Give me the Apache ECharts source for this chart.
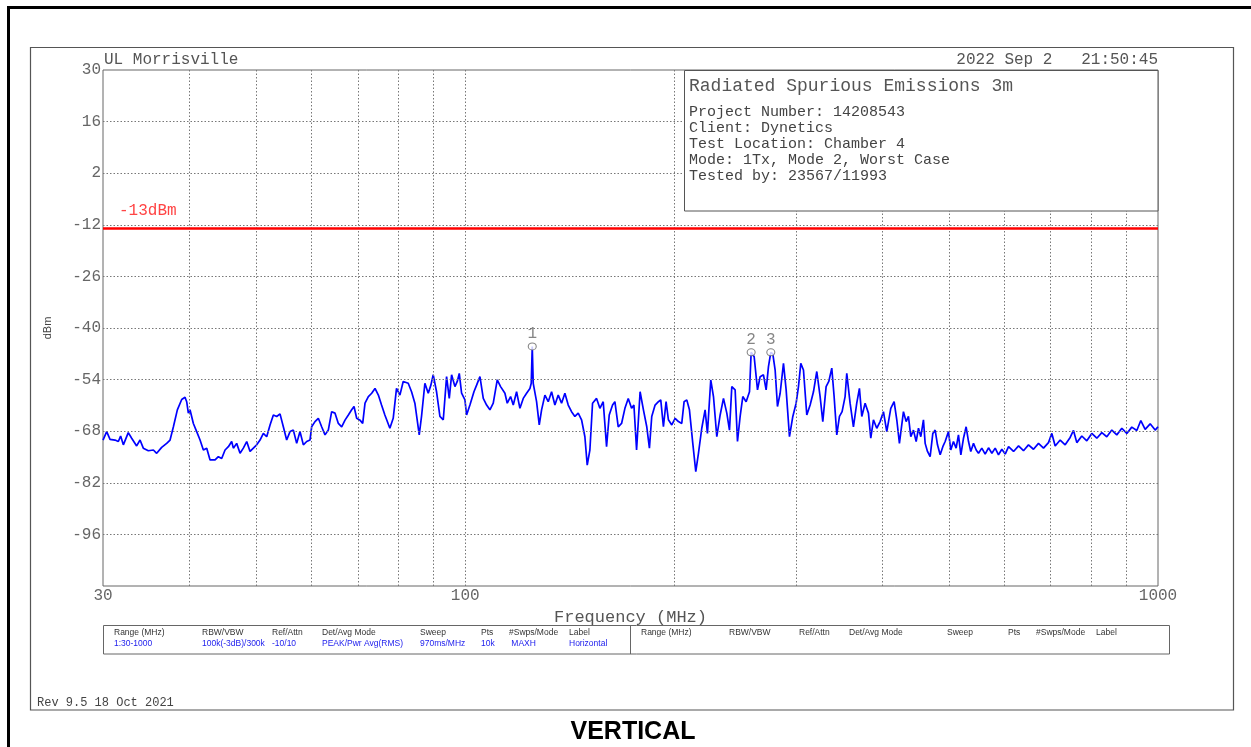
<!DOCTYPE html>
<html>
<head>
<meta charset="utf-8">
<script src="https://cdn.jsdelivr.net/npm/echarts@6/dist/echarts.min.js"></script>
<style>
html, body { margin: 0; padding: 0; background: #fff; }
#chart { width: 1251px; height: 747px; }
</style>
</head>
<body>
<div id="chart"></div>
<script>
// Max-hold spectrum trace, 30 MHz - 1 GHz (frequency in MHz, level in dBm)
const freqMHz = [
  30.0, 30.37, 30.71, 31.22, 31.57, 31.81, 32.10, 32.63, 33.00, 33.55,
  33.93, 34.30, 34.88, 35.47, 35.86, 36.46, 37.07, 37.49, 37.91, 38.41,
  38.97, 39.40, 39.62, 39.84, 40.06, 40.51, 40.96, 41.42, 41.88, 42.35,
  42.82, 43.54, 44.02, 44.51, 45.01, 45.51, 46.01, 46.27, 46.78, 47.31,
  47.83, 48.37, 48.91, 49.45, 50.00, 50.56, 51.12, 51.69, 52.27, 52.85,
  53.44, 54.03, 54.63, 55.24, 55.86, 56.48, 57.11, 57.74, 58.39, 59.04,
  59.69, 60.02, 60.69, 61.37, 62.05, 62.75, 63.44, 64.15, 64.87, 65.59,
  66.32, 67.06, 67.81, 68.56, 69.10, 69.71, 70.49, 71.12, 71.67, 72.47,
  73.28, 74.09, 74.92,
  75.72, 76.56, 77.84, 78.71, 79.58, 80.48, 81.37, 82.74, 83.66, 84.59,
  85.82, 86.48, 87.45, 88.43, 89.21, 89.91, 90.91, 91.93, 92.96, 93.99,
  94.83, 95.57, 96.63, 97.39, 98.04, 98.80, 99.90, 100.45, 101.57, 102.94,
  103.85, 105.01, 106.18, 107.36, 108.55, 109.76, 111.23, 112.47, 114.10, 114.99,
  116.27, 117.31, 118.61, 119.94, 121.27, 122.62, 123.99, 124.53, 124.95, 125.36,
  126.76, 127.89, 128.89, 130.32, 131.77, 133.24, 134.72, 136.22, 137.74, 139.27,
  140.82, 142.39, 143.98, 145.58, 147.20, 148.84, 150.00, 151.33, 152.68, 154.73,
  156.45, 158.19, 159.96, 161.38, 163.18, 164.45, 166.29, 168.14, 170.02, 171.91,
  173.83, 175.18, 176.74,
  178.82, 180.81, 182.83, 184.45, 185.88, 187.96, 190.05, 191.53, 193.23, 194.95,
  196.47, 198.67, 200.89, 203.12, 205.38, 206.98, 208.83, 210.69, 213.05, 215.18,
  217.09, 219.50, 221.95, 223.67, 226.16, 228.21, 230.75, 233.33, 235.92, 238.55,
  240.68, 242.55, 245.25, 247.17, 249.36, 251.58, 254.39, 257.23, 258.66, 261.26,
  264.17, 266.50, 269.46, 271.86, 273.97, 276.11, 277.96, 280.12, 282.30, 284.82,
  287.99, 290.56, 293.80, 297.07, 300.36, 302.71, 305.05, 307.77, 311.20, 314.67,
  318.18, 321.71, 325.29, 328.19, 331.84, 334.80, 338.15, 340.78, 343.82, 346.88,
  349.95, 353.46, 355.42, 359.37, 363.38, 367.42, 370.69, 373.61, 377.78, 381.98,
  384.96, 388.36, 392.69, 397.07, 401.49, 405.98, 411.41, 415.99, 419.7, 423.4,
  429.1, 433.0, 436.3, 439.7, 443.6, 447.6, 451.1, 454.6, 458.6, 461.2,
  464.8, 468.9, 473.1, 476.8, 480.5, 484.8, 489.1, 492.9, 498.4, 502.2,
  506.7, 511.2, 515.2, 519.3, 523.9, 528.5, 532.7, 536.7, 541.6, 546.5,
  550.7, 556.8, 563.0, 569.3, 575.7, 582.1, 588.5, 595.1, 601.8, 608.5,
  618.7, 629.1, 639.5, 650.2, 661.1, 672.2, 683.5, 694.9, 702.7, 710.5,
  722.4, 734.5, 746.8, 755.1, 763.5, 776.3, 789.3, 802.5, 816.0, 829.7,
  843.5, 857.7, 872.0, 886.7, 901.5, 916.6, 932.0, 944.5, 958.2, 974.3,
  990.6, 1000
];
const levelDbm = [
  -70.4, -68.1, -70.2, -70.4, -70.8, -69.3, -71.7, -68.4, -69.9, -72.0,
  -70.4, -72.6, -73.3, -73.1, -74.0, -72.4, -71.3, -70.4, -66.8, -62.2,
  -59.4, -58.8, -60.0, -63.1, -62.2, -65.9, -68.1, -70.4, -73.1, -72.6,
  -75.8, -75.8, -74.9, -75.4, -73.1, -72.2, -70.8, -72.6, -71.3, -74.0,
  -72.6, -70.8, -73.5, -72.6, -71.7, -70.4, -68.6, -69.5, -66.3, -63.6,
  -64.0, -63.3, -66.8, -70.4, -68.1, -67.7, -71.3, -68.1, -71.7, -70.8,
  -70.4, -66.8, -65.4, -64.5, -66.8, -69.0, -67.7, -62.7, -63.1, -65.9,
  -66.8, -65.0, -63.6, -62.2, -61.3, -64.5, -65.0, -65.9, -60.4, -58.6,
  -57.7, -56.4, -58.2,
  -60.9, -63.6, -67.2, -64.5, -56.4, -58.2, -54.5, -55.0, -57.3, -60.4,
  -69.0, -64.0, -55.0, -57.7, -55.5, -52.7, -57.3, -64.0, -64.9, -53.2,
  -59.1, -52.7, -55.9, -54.5, -52.3, -57.7, -59.5, -63.6, -60.9, -57.3,
  -55.5, -53.2, -59.1, -60.9, -62.2, -60.4, -54.1, -55.9, -57.7, -60.4,
  -58.6, -60.9, -57.3, -61.8, -59.1, -57.7, -56.4, -55.0, -45.0, -55.0,
  -60.0, -66.3, -62.2, -58.2, -60.0, -57.3, -60.9, -58.2, -60.4, -57.7,
  -60.9, -62.7, -64.0, -63.1, -64.9, -69.5, -77.2, -73.1, -60.4, -59.1,
  -61.8, -60.0, -72.2, -63.6, -60.9, -60.0, -66.8, -65.9, -61.8, -59.1,
  -61.8, -60.9, -73.1,
  -57.3, -62.2, -66.8, -72.6, -64.0, -60.9, -60.0, -59.5, -66.8, -60.0,
  -64.9, -66.3, -64.5, -65.4, -65.9, -60.0, -59.5, -62.2, -71.3, -79.0,
  -74.0, -67.2, -62.2, -68.6, -54.1, -58.6, -69.5, -63.6, -59.1, -63.1,
  -67.7, -55.9, -56.8, -70.8, -64.0, -58.6, -60.0, -57.3, -46.6, -47.8,
  -56.8, -53.2, -52.7, -56.8, -50.5, -46.6, -47.0, -51.4, -61.3, -57.7,
  -49.6, -56.8, -69.5, -64.0, -60.4, -55.9, -49.6, -51.4, -63.6, -60.9,
  -57.3, -51.8, -58.6, -65.4, -55.9, -54.5, -50.9, -58.6, -69.0, -64.0,
  -62.7, -58.6, -52.3, -60.4, -66.8, -60.4, -56.4, -64.0, -60.4, -63.1,
  -69.9, -64.9, -67.2, -65.4, -62.7, -68.1, -61.8, -60.0, -64.9, -71.3,
  -62.7, -65.4, -64.0, -69.5, -67.7, -70.8, -67.2, -69.5, -64.9, -71.3,
  -73.5, -74.9, -68.6, -67.7, -71.7, -74.4, -72.2, -70.8, -68.1, -73.1,
  -70.8, -72.6, -69.0, -74.4, -69.9, -66.8, -70.8, -73.5, -71.3, -73.1,
  -74.0, -72.6, -74.2, -72.5, -74.0, -72.6, -74.4, -72.9, -74.2, -72.2,
  -73.5, -72.0, -73.3, -71.7, -72.9, -71.3, -72.6, -71.1, -68.6, -72.0,
  -70.4, -71.7, -69.7, -67.8, -71.1, -69.3, -70.6, -68.6, -69.9, -68.4,
  -69.5, -67.7, -69.0, -67.2, -68.6, -66.9, -67.8, -65.1, -67.5, -66.0,
  -67.7, -66.8
];

// Peak markers
const markerIds = ['1', '2', '3'];
const markerFreqMHz = [124.95, 258.66, 276.11];
const markerLevelDbm = [-45.0, -46.6, -46.6];

// Axis ticks and gridlines
const levelTicks = [30, 16, 2, -12, -26, -40, -54, -68, -82, -96];
const levelGrid = [16, 2, -12, -26, -40, -54, -68, -82, -96];
const freqGrid = [40, 50, 60, 70, 80, 90, 100, 200, 300, 400, 500, 600, 700, 800, 900];
const limitDbm = -13;
const limitText = '-13dBm';

// Header and annotation text
const siteName = 'UL Morrisville';
const stampText = '2022 Sep 2   21:50:45';
const infoTitle = 'Radiated Spurious Emissions 3m';
const infoLines = [
  'Project Number: 14208543',
  'Client: Dynetics',
  'Test Location: Chamber 4',
  'Mode: 1Tx, Mode 2, Worst Case',
  'Tested by: 23567/11993'
];
const setupHeaders = ['Range (MHz)', 'RBW/VBW', 'Ref/Attn', 'Det/Avg Mode', 'Sweep', 'Pts', '#Swps/Mode', 'Label'];
const setupValues = ['1:30-1000', '100k(-3dB)/300k', '-10/10', 'PEAK/Pwr Avg(RMS)', '970ms/MHz', '10k', ' MAXH', 'Horizontal'];
const revText = 'Rev 9.5 18 Oct 2021';
const captionText = 'VERTICAL';

const MONO = '"Liberation Mono", "DejaVu Sans Mono", monospace';
const SANS = '"Liberation Sans", "DejaVu Sans", sans-serif';

const trace = freqMHz.map((f, i) => [f, levelDbm[i]]);
const markers = markerFreqMHz.map((f, i) => [f, markerLevelDbm[i]]);

function txt(x, y, text, font, fill, align, vAlign) {
  return {
    type: 'text', x: x, y: y, z: 200, silent: true,
    style: {
      text: text, font: font, fill: fill,
      align: align || 'left', verticalAlign: vAlign || 'middle',
      textAlign: align || 'left', textVerticalAlign: vAlign || 'middle'
    }
  };
}

// Setup table (two sections, column x offsets within a section)
const colX = [114, 202, 272, 322, 420, 481, 509, 569];
const sectionShift = 527;
const tableGraphics = [];
tableGraphics.push({
  type: 'rect', z: 150, silent: true,
  shape: { x: 103.5, y: 625.5, width: 1066, height: 28.5 },
  style: { fill: '#fff', stroke: '#666', lineWidth: 1 }
});
tableGraphics.push({
  type: 'line', z: 151, silent: true,
  shape: { x1: 630.5, y1: 625.5, x2: 630.5, y2: 654 },
  style: { stroke: '#666', lineWidth: 1 }
});
setupHeaders.forEach((h, i) => {
  tableGraphics.push(txt(colX[i], 633, h, '8.5px ' + SANS, '#333'));
  tableGraphics.push(txt(colX[i] + sectionShift, 633, h, '8.5px ' + SANS, '#333'));
  tableGraphics.push(txt(colX[i], 644, setupValues[i], '8.5px ' + SANS, '#2222ee'));
});

const option = {
  backgroundColor: '#fff',
  animation: false,
  grid: {
    left: 103, top: 70, width: 1055, height: 516,
    show: true, borderColor: '#666', borderWidth: 1,
    backgroundColor: 'transparent'
  },
  xAxis: {
    type: 'log', logBase: 10, min: 30, max: 1000,
    name: 'Frequency (MHz)', nameLocation: 'middle', nameGap: 23,
    nameTextStyle: { fontFamily: MONO, fontSize: 17, color: '#555' },
    axisLine: { show: false },
    axisTick: { show: false },
    splitLine: { show: false },
    axisLabel: {
      fontFamily: MONO, fontSize: 16, color: '#666', margin: 2,
      showMinLabel: true, showMaxLabel: true,
      formatter: v => String(Math.round(v))
    }
  },
  yAxis: {
    type: 'value', min: -110, max: 30,
    name: 'dBm', nameLocation: 'middle', nameGap: 50, nameRotate: 90,
    nameTextStyle: { fontFamily: SANS, fontSize: 11, color: '#444' },
    axisLine: { show: false },
    axisTick: { show: false },
    splitLine: { show: false },
    axisLabel: {
      customValues: levelTicks,
      fontFamily: MONO, fontSize: 16, color: '#666', margin: 2
    }
  },
  series: [
    {
      // dotted graticule
      type: 'line', z: 1, data: [], silent: true,
      markLine: {
        silent: true, symbol: 'none', animation: false,
        label: { show: false },
        lineStyle: { color: '#777', width: 1, type: [1.5, 2] },
        data: levelGrid.map(v => ({ yAxis: v })).concat(freqGrid.map(v => ({ xAxis: v })))
      }
    },
    {
      name: 'MAXH', type: 'line', z: 3,
      data: trace,
      showSymbol: false, symbol: 'none',
      lineStyle: { color: '#0000ff', width: 1.7 },
      markLine: {
        silent: true, symbol: 'none', animation: false,
        lineStyle: { color: '#ff0000', width: 2.5, type: 'solid' },
        label: {
          show: true, position: 'insideStartTop', formatter: limitText,
          fontFamily: MONO, fontSize: 16, color: '#ff4444', distance: [16, 10]
        },
        data: [{ yAxis: limitDbm }]
      }
    },
    {
      name: 'markers', type: 'scatter', z: 5,
      data: markers,
      symbol: 'circle', symbolSize: [8, 7],
      itemStyle: { color: '#fff', borderColor: '#666', borderWidth: 1 },
      label: {
        show: true, position: 'top', distance: 1,
        formatter: p => markerIds[p.dataIndex],
        fontFamily: MONO, fontSize: 16, color: '#666'
      }
    }
  ],
  graphic: [
    {
      type: 'rect', z: 120, silent: true,
      shape: { x: 8.5, y: 7.5, width: 1300, height: 800 },
      style: { fill: 'none', stroke: '#000', lineWidth: 3 }
    },
    {
      type: 'rect', z: 120, silent: true,
      shape: { x: 30.5, y: 47.5, width: 1203, height: 662.5 },
      style: { fill: 'none', stroke: '#555', lineWidth: 1.2 }
    },
    {
      type: 'rect', z: 150, silent: true,
      shape: { x: 684.5, y: 70.5, width: 473.5, height: 140.5 },
      style: { fill: '#fff', stroke: '#555', lineWidth: 1 }
    },
    txt(689, 86, infoTitle, '18px ' + MONO, '#555'),
    ...infoLines.map((s, i) => txt(689, 112 + i * 16, s, '15px ' + MONO, '#444')),
    txt(104, 60, siteName, '16px ' + MONO, '#555'),
    txt(1158, 60, stampText, '16px ' + MONO, '#555', 'right'),
    txt(37, 703, revText, '12px ' + MONO, '#444'),
    txt(633, 732, captionText, 'bold 25px ' + SANS, '#000', 'center'),
    ...tableGraphics
  ]
};

const chart = echarts.init(document.getElementById('chart'), null, { renderer: 'canvas' });
chart.setOption(option);
</script>
</body>
</html>
